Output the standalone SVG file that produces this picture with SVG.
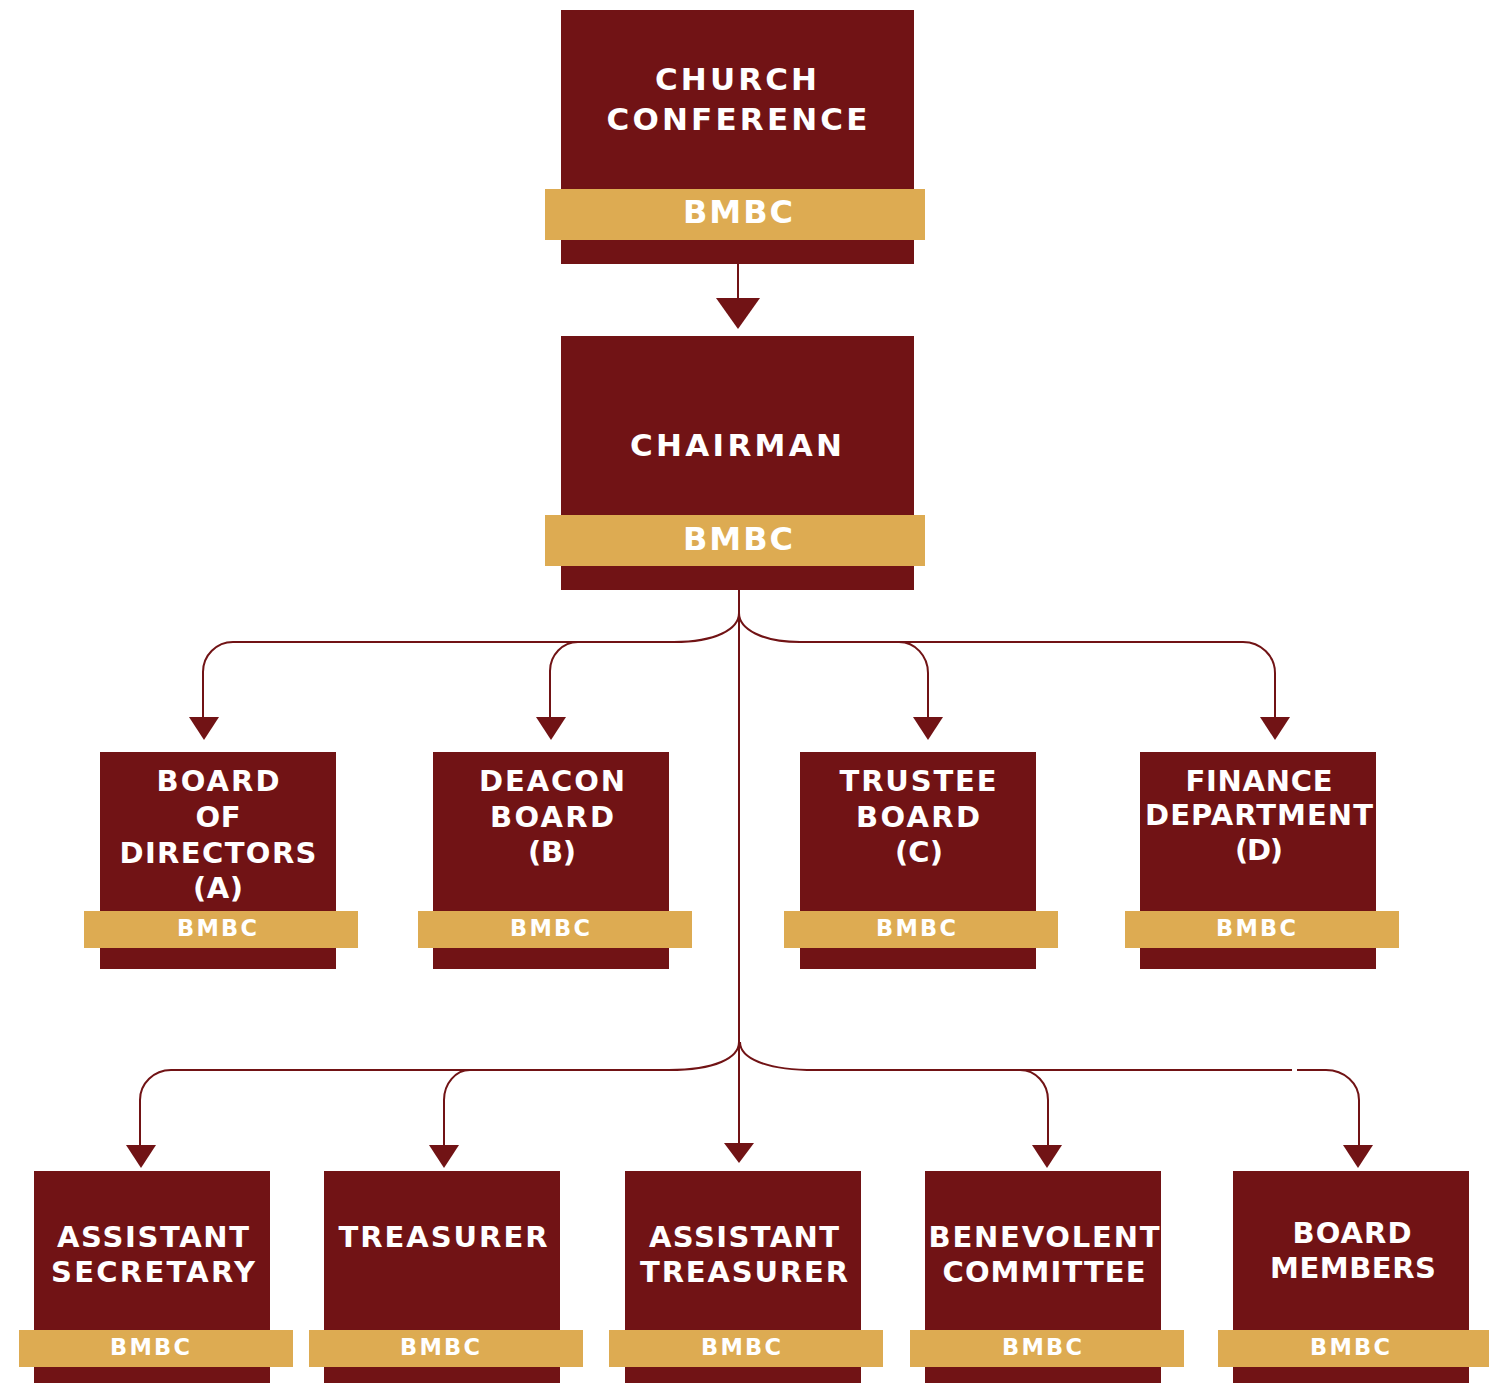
<svg xmlns="http://www.w3.org/2000/svg" xmlns:xlink="http://www.w3.org/1999/xlink" width="1489" height="1383" viewBox="0 0 1489 1383">
<style>
.box{fill:#711315}
.band{fill:#ddab52}
.t{font-family:"DejaVu Sans","Liberation Sans",sans-serif;font-weight:bold;fill:#ffffff;text-anchor:middle}
.big{font-size:31px}
.bb{font-size:32px}
.mid{font-size:29px}
.sm{font-size:22.5px}
.ln{fill:none;stroke:#711315;stroke-width:2}
.ah{fill:#711315}
</style>
<defs>
<polygon id="ah" points="-15,0 15,0 0,23"/>
<polygon id="ahBig" points="-22,0 22,0 0,31"/>
<polygon id="ahS" points="-15,0 15,0 0,20"/>
</defs>
<rect width="1489" height="1383" fill="#ffffff"/>

<g id="connectors">
<line class="ln" x1="738" y1="264" x2="738" y2="300"/>
<use xlink:href="#ahBig" class="ah" x="738" y="298"/>
<line class="ln" x1="739" y1="560" x2="739" y2="1145"/>
<path class="ln" d="M739,613 C739,629 716,642 674,642 H233 A30,30 0 0 0 203,672 V718"/>
<path class="ln" d="M578,642 A28,29 0 0 0 550,671 V718"/>
<path class="ln" d="M739,613 C739,629 762,642 800,642 H1243 A32,31 0 0 1 1275,673 V718"/>
<path class="ln" d="M899,642 A29,31 0 0 1 928,673 V718"/>
<use xlink:href="#ah" class="ah" x="204" y="717"/>
<use xlink:href="#ah" class="ah" x="551" y="717"/>
<use xlink:href="#ah" class="ah" x="928" y="717"/>
<use xlink:href="#ah" class="ah" x="1275" y="717"/>
<path class="ln" d="M739,1042 C739,1058 715,1070 669,1070 H171 A31,30 0 0 0 140,1100 V1146"/>
<path class="ln" d="M470,1070 A26,30 0 0 0 444,1100 V1146"/>
<path class="ln" d="M740,1042 C740,1058 765,1070 815,1070 H1292"/>
<path class="ln" d="M1297,1070 H1326 A33,30 0 0 1 1359,1100 V1146"/>
<path class="ln" d="M1020,1070 A28,30 0 0 1 1048,1100 V1146"/>
<use xlink:href="#ah" class="ah" x="141" y="1145"/>
<use xlink:href="#ah" class="ah" x="444" y="1145"/>
<use xlink:href="#ahS" class="ah" x="739" y="1143"/>
<use xlink:href="#ah" class="ah" x="1047" y="1145"/>
<use xlink:href="#ah" class="ah" x="1358" y="1145"/>
</g>

<g id="church-conference">
<rect class="box" x="561" y="10" width="353" height="254"/>
<rect class="band" x="545" y="189" width="380" height="51"/>
<text class="t big" x="736" y="90" textLength="162" lengthAdjust="spacing">CHURCH</text>
<text class="t big" x="737" y="130" textLength="261" lengthAdjust="spacing">CONFERENCE</text>
<text class="t bb" x="738" y="223" textLength="110" lengthAdjust="spacing">BMBC</text>
</g>

<g id="chairman">
<rect class="box" x="561" y="336" width="353" height="254"/>
<rect class="band" x="545" y="515" width="380" height="51"/>
<text class="t big" x="736" y="456" textLength="212" lengthAdjust="spacing">CHAIRMAN</text>
<text class="t bb" x="738" y="550" textLength="110" lengthAdjust="spacing">BMBC</text>
</g>

<g id="board-of-directors">
<rect class="box" x="100" y="752" width="236" height="217"/>
<rect class="band" x="84" y="911" width="274" height="37"/>
<text class="t mid" x="218" y="791" textLength="123" lengthAdjust="spacing">BOARD</text>
<text class="t mid" x="218" y="827" textLength="45" lengthAdjust="spacing">OF</text>
<text class="t mid" x="218" y="863" textLength="197" lengthAdjust="spacing">DIRECTORS</text>
<text class="t mid" x="218" y="898" textLength="50" lengthAdjust="spacing">(A)</text>
<text class="t sm" x="217" y="936" textLength="80" lengthAdjust="spacing">BMBC</text>
</g>

<g id="deacon-board">
<rect class="box" x="433" y="752" width="236" height="217"/>
<rect class="band" x="418" y="911" width="274" height="37"/>
<text class="t mid" x="552" y="791" textLength="146" lengthAdjust="spacing">DEACON</text>
<text class="t mid" x="552" y="827" textLength="124" lengthAdjust="spacing">BOARD</text>
<text class="t mid" x="552" y="862" textLength="48" lengthAdjust="spacing">(B)</text>
<text class="t sm" x="550" y="936" textLength="80" lengthAdjust="spacing">BMBC</text>
</g>

<g id="trustee-board">
<rect class="box" x="800" y="752" width="236" height="217"/>
<rect class="band" x="784" y="911" width="274" height="37"/>
<text class="t mid" x="918" y="791" textLength="157" lengthAdjust="spacing">TRUSTEE</text>
<text class="t mid" x="918" y="827" textLength="124" lengthAdjust="spacing">BOARD</text>
<text class="t mid" x="919" y="862" textLength="48" lengthAdjust="spacing">(C)</text>
<text class="t sm" x="916" y="936" textLength="80" lengthAdjust="spacing">BMBC</text>
</g>

<g id="finance-department">
<rect class="box" x="1140" y="752" width="236" height="217"/>
<rect class="band" x="1125" y="911" width="274" height="37"/>
<text class="t mid" x="1259" y="791" textLength="147" lengthAdjust="spacing">FINANCE</text>
<text class="t mid" x="1259" y="825" textLength="228" lengthAdjust="spacing">DEPARTMENT</text>
<text class="t mid" x="1259" y="860" textLength="48" lengthAdjust="spacing">(D)</text>
<text class="t sm" x="1256" y="936" textLength="80" lengthAdjust="spacing">BMBC</text>
</g>

<g id="assistant-secretary">
<rect class="box" x="34" y="1171" width="236" height="212"/>
<rect class="band" x="19" y="1330" width="274" height="37"/>
<text class="t mid" x="153" y="1247" textLength="192" lengthAdjust="spacing">ASSISTANT</text>
<text class="t mid" x="153" y="1282" textLength="204" lengthAdjust="spacing">SECRETARY</text>
<text class="t sm" x="150" y="1355" textLength="80" lengthAdjust="spacing">BMBC</text>
</g>

<g id="treasurer">
<rect class="box" x="324" y="1171" width="236" height="212"/>
<rect class="band" x="309" y="1330" width="274" height="37"/>
<text class="t mid" x="443" y="1247" textLength="209" lengthAdjust="spacing">TREASURER</text>
<text class="t sm" x="440" y="1355" textLength="80" lengthAdjust="spacing">BMBC</text>
</g>

<g id="assistant-treasurer">
<rect class="box" x="625" y="1171" width="236" height="212"/>
<rect class="band" x="609" y="1330" width="274" height="37"/>
<text class="t mid" x="744" y="1247" textLength="190" lengthAdjust="spacing">ASSISTANT</text>
<text class="t mid" x="744" y="1282" textLength="208" lengthAdjust="spacing">TREASURER</text>
<text class="t sm" x="741" y="1355" textLength="80" lengthAdjust="spacing">BMBC</text>
</g>

<g id="benevolent-committee">
<rect class="box" x="925" y="1171" width="236" height="212"/>
<rect class="band" x="910" y="1330" width="274" height="37"/>
<text class="t mid" x="1044" y="1247" textLength="231" lengthAdjust="spacing">BENEVOLENT</text>
<text class="t mid" x="1044" y="1282" textLength="203" lengthAdjust="spacing">COMMITTEE</text>
<text class="t sm" x="1042" y="1355" textLength="80" lengthAdjust="spacing">BMBC</text>
</g>

<g id="board-members">
<rect class="box" x="1233" y="1171" width="236" height="212"/>
<rect class="band" x="1218" y="1330" width="271" height="37"/>
<text class="t mid" x="1352" y="1243" textLength="119" lengthAdjust="spacing">BOARD</text>
<text class="t mid" x="1353" y="1278" textLength="166" lengthAdjust="spacing">MEMBERS</text>
<text class="t sm" x="1350" y="1355" textLength="80" lengthAdjust="spacing">BMBC</text>
</g>
</svg>
